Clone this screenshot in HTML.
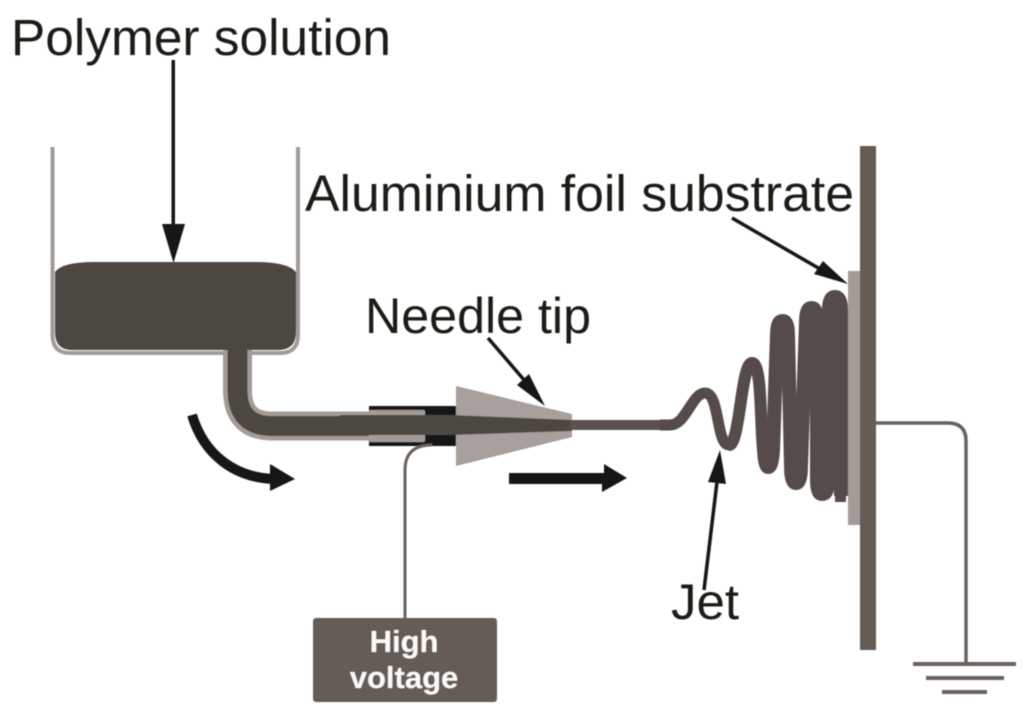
<!DOCTYPE html>
<html>
<head>
<meta charset="utf-8">
<style>
html,body{margin:0;padding:0;background:#fff;width:1024px;height:719px;overflow:hidden}
svg{display:block}
text{font-family:"Liberation Sans",Arial,sans-serif;fill:#1b1b19}
</style>
</head>
<body>
<svg width="1024" height="719" viewBox="0 0 1024 719" xmlns="http://www.w3.org/2000/svg">
<defs><filter id="b" x="-5%" y="-5%" width="110%" height="110%"><feGaussianBlur stdDeviation="0.6"/></filter></defs>
<rect width="1024" height="719" fill="#fff"/>
<g filter="url(#b)">
<!-- beaker -->
<path d="M52.5 147V335Q52.5 353 70 353H280Q298 353 298 335V147" fill="none" stroke="#a39b97" stroke-width="4"/>
<!-- tube outline -->
<path d="M237.5 350V390Q237.5 426 272 426H460" fill="none" stroke="#a39b97" stroke-width="29"/>
<path d="M237.5 345V390Q237.5 426 272 426H460" fill="none" stroke="#4e4643" stroke-width="20"/>
<!-- liquid -->
<path d="M55 272Q62 262 95 262H255Q288 262 296 272V332Q296 350 278 350H72Q55 350 55 332Z" fill="#4e4643"/>
<path d="M228 349H247V360H228Z" fill="#4e4643"/>
<!-- holder -->
<rect x="369" y="406" width="87" height="40" fill="#161614"/>
<rect x="369" y="410" width="56" height="32" fill="#a39b97" rx="2"/>
<!-- wire to HV -->
<path d="M432 445Q405 445 405 470V620" fill="none" stroke="#6b625c" stroke-width="3"/>
<!-- cone -->
<path d="M456 386L572 414V437L456 466Z" fill="#a7a09c"/>
<path d="M369 415H450L572 420V431L450 435H369Z" fill="#4e4643"/>
<rect x="340" y="415" width="100" height="20" fill="#4e4643"/>
<path d="M570 425H672" stroke="#5a514d" stroke-width="10" fill="none"/>
<!-- jet -->
<g fill="none" stroke="#544c48" stroke-linecap="butt" stroke-linejoin="round">
<path d="M660 425H670C686 425 692 393 705 393C720 393 716 445 729 445" stroke-width="11"/>
<path d="M729 445C740 445 741 363 752 363C762 363 760 420 763 450Q764 468 768 468" stroke-width="12"/>
<path d="M768 467Q772 467 773 450L777 335Q777 321 782.5 321Q788 321 788 335L791 465Q791 483 796 483Q801 483 801 465L806 322Q806 308 811.5 308Q817 308 817 322L817 480Q817 494 822 494Q828 494 828 480L829 310Q829 297 835 297Q841 297 841 310V496" stroke-width="14"/>
</g>
<rect x="835" y="310" width="11" height="192" fill="#544c48"/>
<!-- foil and plate -->
<rect x="848" y="271" width="13" height="254" fill="#a39b97"/>
<rect x="860" y="146" width="16" height="504" fill="#655b55"/>
<!-- ground -->
<path d="M876 423H948Q966 423 966 441V664" fill="none" stroke="#6b625c" stroke-width="3.5"/>
<path d="M913 664H1016M926 678H1004M942 692H987" fill="none" stroke="#6b625c" stroke-width="4"/>
<!-- HV box -->
<rect x="313" y="618" width="184" height="84" rx="3" fill="#655b55"/>
<!-- arrows -->
<g fill="#161614" stroke="none">
<rect x="171.5" y="60" width="3.5" height="170"/>
<path d="M162 224H185L173.5 263Z"/>
<path d="M509 473H604V464L627 478L602 492V484H509Z"/>
<path d="M545 406L517 385L529 374Z"/>
<path d="M848 284L814 274L823 261Z"/>
<path d="M720 450L708 482L726 484Z"/>
<path d="M270 464L295 479L270 491Z"/>
</g>
<g fill="none" stroke="#161614">
<path d="M488 338L525 381" stroke-width="3.5"/>
<path d="M732 218L820 269" stroke-width="3.5"/>
<path d="M717 482L704 590" stroke-width="3.5"/>
<path d="M192 415C204 455 235 478 275 479" stroke-width="10"/>
</g>
<!-- labels -->
<text x="11" y="55" font-size="51" textLength="380" lengthAdjust="spacingAndGlyphs">Polymer solution</text>
<text x="305" y="211" font-size="51" textLength="549" lengthAdjust="spacingAndGlyphs">Aluminium foil substrate</text>
<text x="365" y="333" font-size="50" textLength="226" lengthAdjust="spacingAndGlyphs">Needle tip</text>
<text x="671" y="619" font-size="50" textLength="68" lengthAdjust="spacingAndGlyphs">Jet</text>
<text x="404" y="652" font-size="31" font-weight="700" text-anchor="middle" style="fill:#fbfaf8">High</text>
<text x="404" y="688" font-size="31" font-weight="700" text-anchor="middle" style="fill:#fbfaf8">voltage</text>
</g>
</svg>
</body>
</html>
